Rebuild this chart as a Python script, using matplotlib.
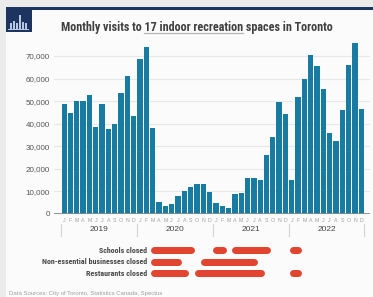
import matplotlib
matplotlib.use("Agg")
import matplotlib.pyplot as plt
import matplotlib.transforms as mtransforms
from matplotlib.patches import Rectangle
from matplotlib.lines import Line2D
from matplotlib import font_manager as fm

# ---------------- data ----------------
years = ["2019", "2020", "2021", "2022"]
month_letters = ["J", "F", "M", "A", "M", "J", "J", "A", "S", "O", "N", "D"]
visits_2019 = [48700, 44600, 50200, 50000, 52900, 38700, 48700, 37800, 39900, 53600, 61300, 43400]
visits_2020 = [68500, 73800, 38200, 5500, 3700, 4600, 7800, 10300, 12100, 13300, 13200, 9900]
visits_2021 = [5000, 3700, 2800, 8700, 9300, 15800, 15900, 15100, 26000, 34000, 49500, 44400]
visits_2022 = [14900, 52000, 60000, 70400, 65400, 55500, 36000, 32200, 46200, 66000, 75600, 46500]
yticks = [0, 10000, 20000, 30000, 40000, 50000, 60000, 70000]

closure_labels = ["Schools closed", "Non-essential businesses closed", "Restaurants closed"]
# closure periods in months since Jan 2019 (start, end)
schools_closed = [(14.2, 21.1), (24.0, 26.1), (27.0, 33.1), (36.1, 38.1)]
nonessential_closed = [(14.2, 19.1), (22.0, 31.1)]
restaurants_closed = [(14.2, 20.2), (21.1, 32.2), (36.1, 38.1)]

title_pre = "Monthly visits to "
title_mid = "17 indoor recreation"
title_post = " spaces in Toronto"
source = "Data Sources: City of Toronto, Statistics Canada, Spectus"

# ---------------- style ----------------
available = set(f.name for f in fm.fontManager.ttflist)

def pick(cands):
    out = [c for c in cands if c in available]
    return (out[:1] if out else []) + ["DejaVu Sans"]

NARROW = pick(["Roboto Condensed", "Archivo Narrow", "Liberation Sans Narrow", "PT Sans Narrow",
               "Open Sans Condensed", "Arial Narrow", "Liberation Sans"])
SANS = pick(["Liberation Sans", "Arimo", "Roboto"])

W, H = 373, 297
BAR = "#187ca2"
RED = "#e2452f"

fig = plt.figure(figsize=(W / 100, H / 100), dpi=100)
fig.patch.set_facecolor("#ebebeb")

def fy(py):
    return 1 - py / H

def fx(px):
    return px / W

# card + top band + logo
fig.patches.append(Rectangle((fx(6), 0), 1 - fx(6), fy(9.5), transform=fig.transFigure,
                             facecolor="#fbfbfb", edgecolor="none", zorder=-10))
fig.patches.append(Rectangle((fx(6), fy(9.5)), 1 - fx(6), 2.2 / H, transform=fig.transFigure,
                             facecolor="#1d3461", edgecolor="none", zorder=-9))
fig.patches.append(Rectangle((fx(6), fy(32)), fx(26), 23 / H, transform=fig.transFigure,
                             facecolor="#1d3461", edgecolor="none", zorder=-9))
for (x0, w, h) in [(10, 2, 7), (13, 2, 9), (16, 2, 6), (19, 2.2, 15), (22, 2, 8), (25, 2, 6)]:
    fig.patches.append(Rectangle((fx(x0), fy(29.5)), fx(w), h / H, transform=fig.transFigure,
                                 facecolor="#b8c8e0", edgecolor="none", zorder=-8))
fig.patches.append(Rectangle((fx(8), fy(30)), fx(21), 1 / H, transform=fig.transFigure,
                             facecolor="#b8c8e0", edgecolor="none", zorder=-8))

# ---------------- main bar chart ----------------
values = visits_2019 + visits_2020 + visits_2021 + visits_2022
n = len(values)
xs = list(range(n))

ax_left, ax_right = 54, 370
x0_data = -0.5 - (61 - ax_left) / 6.32
x1_data = 47.5 + (ax_right - 364.5) / 6.32
y_top_val = 77000
px_per_10k = (214 - 56) / 7
top_px = 214 - y_top_val / 10000 * px_per_10k
ax = fig.add_axes([fx(ax_left), fy(214), fx(ax_right - ax_left), (214 - top_px) / H])
ax.set_facecolor("none")
ax.bar(xs, values, width=0.84, color=BAR, edgecolor="none", zorder=3)
ax.set_xlim(x0_data, x1_data)
ax.set_ylim(0, y_top_val)
ax.set_yticks(yticks)
ax.set_yticklabels([f"{v:,}" for v in yticks], fontsize=5.8, color="#555555", family=SANS)
ax.tick_params(axis="y", length=0, pad=3)
ax.set_xticks([])
ax.yaxis.grid(True, color="#e8e8e8", linewidth=0.8, zorder=0)
for s in ax.spines.values():
    s.set_visible(False)
ax.axhline(0, color="#8a8a8a", linewidth=1.3, zorder=4)

bt = mtransforms.blended_transform_factory(ax.transData, fig.transFigure)
for i in range(n):
    ax.text(i, fy(220), month_letters[i % 12], transform=bt, ha="center", va="center",
            fontsize=3.8, color="#a0a0a0", family=SANS)
for k, yr in enumerate(years):
    ax.text(12 * k + 5.5, fy(229.5), yr, transform=bt, ha="center", va="center",
            fontsize=6, color="#444444", family=SANS)
for k in range(len(years) + 1):
    fig.lines.append(Line2D([12 * k - 0.5, 12 * k - 0.5], [fy(224), fy(236)], transform=bt,
                            color="#d4d4d4", linewidth=0.8))

# ---------------- closures timeline ----------------
ax2 = fig.add_axes([fx(ax_left), fy(279), fx(ax_right - ax_left), 34.5 / H])
ax2.set_xlim(x0_data, x1_data)
ax2.set_ylim(-0.5, 2.5)
ax2.axis("off")
px_per_month = (364.5 - 61) / 48
lw_px = 7.0
cap = lw_px / 2 / px_per_month
rows = [schools_closed, nonessential_closed, restaurants_closed]
for r, (label, periods) in enumerate(zip(closure_labels, rows)):
    yrow = 2 - r
    for (s, e) in periods:
        ax2.plot([s - 0.5 + cap, e - 0.5 - cap], [yrow, yrow], color=RED,
                 linewidth=lw_px * 0.72, solid_capstyle="round")
    ax2.text(13.08, yrow, label, ha="right", va="center", fontsize=5.8,
             fontweight="bold", color="#484848", family=NARROW)

# ---------------- title ----------------
title_y = fy(27)
TFS = 8.7
t_full = fig.text(fx(61), title_y, title_pre + title_mid + title_post, ha="left", va="center",
                  fontsize=TFS, fontweight="bold", color="#404040", family=NARROW)
fig.canvas.draw()
r = fig.canvas.get_renderer()
tmp1 = fig.text(fx(61), title_y, title_pre.rstrip(), fontsize=TFS, fontweight="bold", family=NARROW)
tmp2 = fig.text(fx(61), title_y, title_pre + title_mid, fontsize=TFS, fontweight="bold", family=NARROW)
bb_full = t_full.get_window_extent(r)
w1 = tmp1.get_window_extent(r).width
w2 = tmp2.get_window_extent(r).width
tmp1.remove()
tmp2.remove()
sx0 = bb_full.x0 + w1 + 2.5
sx1 = bb_full.x0 + w2
fig.lines.append(Line2D([sx0 / W, sx1 / W], [fy(32.5), fy(32.5)], transform=fig.transFigure,
                        color="#b5b5b5", linewidth=0.9))

fig.text(fx(9), fy(294), source, ha="left", va="center", fontsize=4.3, color="#a0a0a0",
         family=SANS)

fig.savefig("out.png", dpi=100, facecolor=fig.get_facecolor())
